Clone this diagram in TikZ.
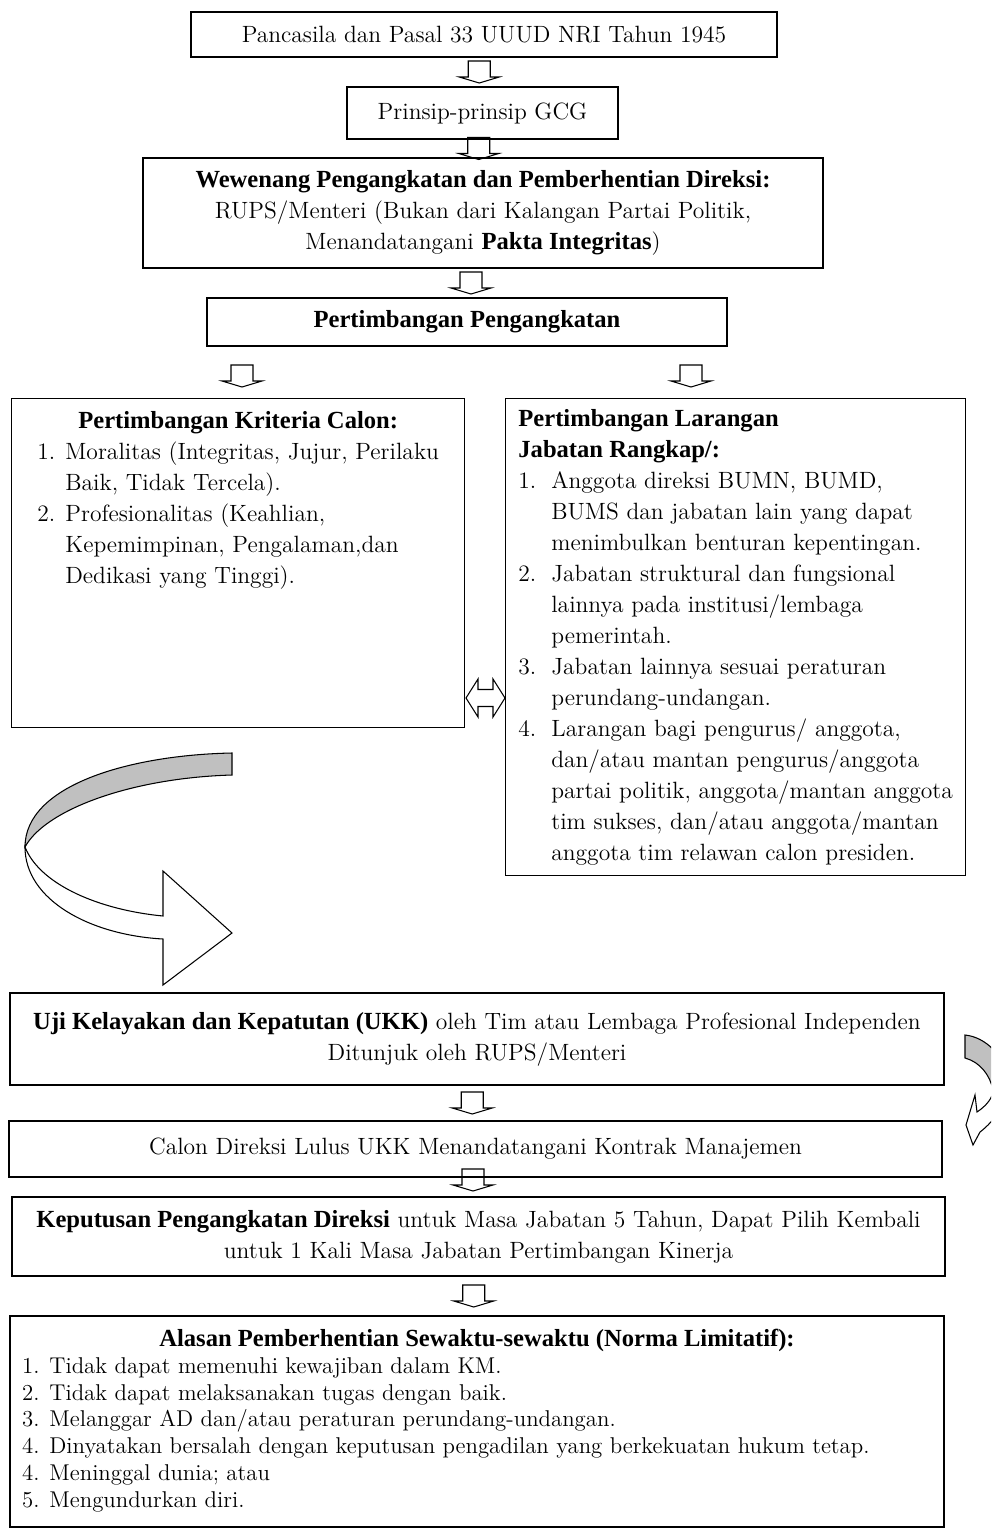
\documentclass[tikz,border=0pt]{standalone}
\usepackage{fontspec}
\usetikzlibrary{calc}
\newfontfamily\fontTebal{Liberation Serif}
\newcommand{\Tebal}[1]{{\fontTebal\bfseries\fontsize{14}{17.64}\selectfont #1}}
\newcommand{\Px}{0.02cm}
\definecolor{abu}{RGB}{192,192,192}
\tikzset{
	kotak/.style={draw, line width=0.8pt, inner sep=0pt, align=center,
		font=\fontsize{13.4}{17.64}\selectfont},
	turun/.pic={\draw[line width=0.6pt] (-11,-11) -- (11,-11) -- (11,5) -- (20,5)
		-- (0,11) -- (-20,5) -- (-11,5) -- cycle;},
	kembar/.pic={\draw[line width=0.6pt] (-19.5,0) -- (-7.5,-19) -- (-7.5,-8.5)
		-- (7.5,-8.5) -- (7.5,-19) -- (19.5,0) -- (7.5,19) -- (7.5,8.5)
		-- (-7.5,8.5) -- (-7.5,19) -- cycle;}
}
\begin{document}
\begin{tikzpicture}[x=0.02cm,y=-0.02cm]
	\useasboundingbox (0,0) rectangle (991,1532);
	% alur atas
	\node[kotak, minimum width=586*\Px, minimum height=45*\Px] (pancasila) at (484,34.5)
	{Pancasila dan Pasal 33 UUUD NRI Tahun 1945};
	\node[kotak, minimum width=271*\Px, minimum height=52*\Px] (gcg) at (482.5,113)
	{Prinsip-prinsip GCG};
	\node[kotak, minimum width=680*\Px, minimum height=110*\Px] (wewenang) at (483,213)
	{\Tebal{Wewenang Pengangkatan dan Pemberhentian Direksi:}\\
		RUPS/Menteri (Bukan dari Kalangan Partai Politik,\\
		Menandatangani \Tebal{Pakta Integritas})};
	\node[kotak, minimum width=520*\Px, minimum height=48*\Px] (pertimbangan) at (467,322)
	{\Tebal{Pertimbangan Pengangkatan}};
	% dua kolom
	\node[kotak, anchor=north west, minimum width=453*\Px, minimum height=329*\Px] (kriteria) at (11,398) {};
	\node[inner sep=0pt, anchor=north, font=\fontsize{13.4}{17.64}\selectfont] (kriteriaIsi)
	at ($(kriteria.north)+(0,8)$)
	{\begin{tabular}{@{}l@{\hspace{0.2cm}}l@{}}
			\multicolumn{2}{c}{\Tebal{Pertimbangan Kriteria Calon:}}\\
			1. & Moralitas (Integritas, Jujur, Perilaku\\
			& Baik, Tidak Tercela).\\
			2. & Profesionalitas (Keahlian,\\
			& Kepemimpinan, Pengalaman,dan\\
			& Dedikasi yang Tinggi).
	\end{tabular}};
	\node[kotak, anchor=north west, minimum width=460*\Px, minimum height=477*\Px] (larangan) at (505,398)
	{\begin{tabular}{@{}l@{\hspace{0.3cm}}l@{}}
			\multicolumn{2}{@{}l}{\Tebal{Pertimbangan Larangan}}\\
			\multicolumn{2}{@{}l}{\Tebal{Jabatan Rangkap/:}}\\
			1. & Anggota direksi BUMN, BUMD,\\
			& BUMS dan jabatan lain yang dapat\\
			& menimbulkan benturan kepentingan.\\
			2. & Jabatan struktural dan fungsional\\
			& lainnya pada institusi/lembaga\\
			& pemerintah.\\
			3. & Jabatan lainnya sesuai peraturan\\
			& perundang-undangan.\\
			4. & Larangan bagi pengurus/ anggota,\\
			& dan/atau mantan pengurus/anggota\\
			& partai politik, anggota/mantan anggota\\
			& tim sukses, dan/atau anggota/mantan\\
			& anggota tim relawan calon presiden.
	\end{tabular}};
	% alur bawah
	\node[kotak, minimum width=934*\Px, minimum height=92*\Px] (ukk) at (477,1039)
	{\Tebal{Uji Kelayakan dan Kepatutan (UKK)} oleh Tim atau Lembaga Profesional Independen\\
		Ditunjuk oleh RUPS/Menteri};
	\node[kotak, minimum width=933*\Px, minimum height=56*\Px] (kontrak) at (475.5,1149)
	{Calon Direksi Lulus UKK Menandatangani Kontrak Manajemen};
	\node[kotak, minimum width=933*\Px, minimum height=79*\Px] (keputusan) at (478.5,1236.5)
	{\Tebal{Keputusan Pengangkatan Direksi} untuk Masa Jabatan 5 Tahun, Dapat Pilih Kembali\\
		untuk 1 Kali Masa Jabatan Pertimbangan Kinerja};
	\node[kotak, inner xsep=0.24cm, minimum height=211*\Px, font=\fontsize{13}{15.3}\selectfont] (alasan) at (477,1421.5)
	{\begin{tabular}{@{}p{18.2cm}@{}}
			\multicolumn{1}{c}{\Tebal{Alasan Pemberhentian Sewaktu-sewaktu (Norma Limitatif):}}\\
			1. Tidak dapat memenuhi kewajiban dalam KM.\\
			2. Tidak dapat melaksanakan tugas dengan baik.\\
			3. Melanggar AD dan/atau peraturan perundang-undangan.\\
			4. Dinyatakan bersalah dengan keputusan pengadilan yang berkekuatan hukum tetap.\\
			4. Meninggal dunia; atau\\
			5. Mengundurkan diri.
	\end{tabular}};
	% panah
	\foreach \Atas/\Bawah/\Geser in {pancasila/gcg/0,gcg/wewenang/0,wewenang/pertimbangan/0,ukk/kontrak/0,kontrak/keputusan/-7,keputusan/alasan/0}
	{
		\pic at ($(\Atas.south)!0.5!(\Bawah.north)+(-4,\Geser)$) {turun};
	}
	\pic at (242,376) {turun};
	\pic at (691,376) {turun};
	\pic at (485.5,698) {kembar};
	% panah lengkung besar
	\draw[line width=0.6pt, fill=abu] (232,753) .. controls (130,755) and (25,785) .. (25,847)
	.. controls (45,810) and (130,778) .. (232,775) -- cycle;
	\draw[line width=0.6pt, fill=white] (25,847) .. controls (40,885) and (100,910) .. (163,916)
	-- (163,871) -- (232,933) -- (163,985) -- (163,939)
	.. controls (90,935) and (25,900) .. (25,847) -- cycle;
	% panah lengkung kecil
	\begin{scope}
		\clip (0,0) rectangle (991,1532);
		\draw[line width=0.6pt, fill=abu] (965,1035) .. controls (985,1037) and (1005,1055) .. (1008,1082)
		-- (993,1090) .. controls (990,1075) and (980,1062) .. (965,1058) -- cycle;
		\draw[line width=0.6pt, fill=white] (993,1090) .. controls (993,1098) and (986,1106) .. (977,1112)
		-- (975,1095) -- (966,1125) -- (973,1145) -- (980,1132)
		.. controls (996,1120) and (1008,1100) .. (1008,1082) -- cycle;
	\end{scope}
\end{tikzpicture}
\end{document}
